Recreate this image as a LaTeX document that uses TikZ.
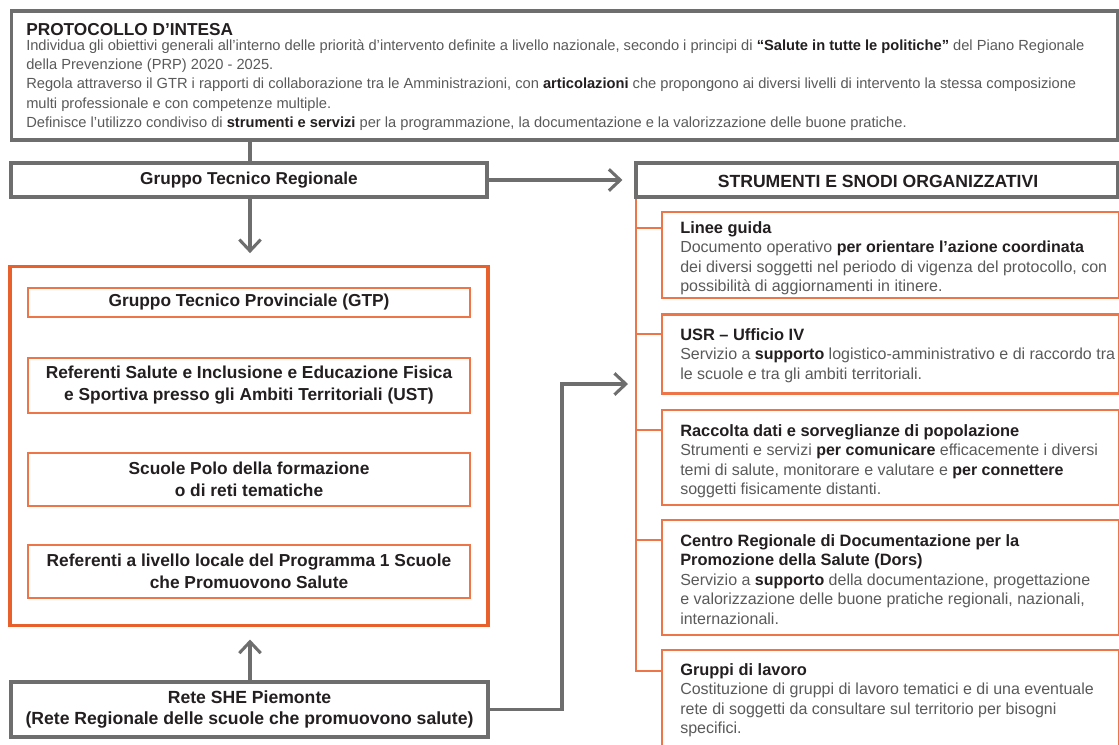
\documentclass[tikz,border=0pt]{standalone}
\usepackage{fontspec}
\setmainfont{Liberation Sans}
\usetikzlibrary{arrows.meta}
\definecolor{gb}{HTML}{6E6E6E}
\definecolor{ob}{HTML}{E8612C}
\definecolor{oi}{HTML}{EE7548}
\definecolor{tx}{HTML}{5A5A5A}
\definecolor{tb}{HTML}{231F20}
\newcommand\bk[1]{\textbf{\color{tb}#1}}
\newcommand\rtitle[1]{{\fontsize{12.3}{14.7}\selectfont\bk{#1}}}
\begin{document}
\begin{tikzpicture}[x=0.75pt,y=-0.75pt,
  graybox/.style={draw=gb, line width=2.3pt, fill=white, inner sep=0pt},
  outerbox/.style={draw=ob, line width=2.3pt, inner sep=0pt},
  innerbox/.style={draw=oi, line width=2.2pt, fill=white, inner sep=0pt, minimum width=331.5pt, align=center,
     font=\fontsize{13}{16.5}\selectfont\bfseries\color{tb}},
  rbox/.style={draw=oi, line width=2.2pt, fill=white, inner sep=0pt, minimum width=342.75pt},
  rtext/.style={anchor=north west, inner sep=0pt, align=left, font=\fontsize{12}{14.7}\selectfont\color{tx}},
  gline/.style={draw=gb, line width=2.3pt},
  garrow/.style={gline, -{Straight Barb[length=8.5pt,width=16pt,line width=2.3pt]}},
  oline/.style={draw=oi, line width=2.2pt}
]
\useasboundingbox (0,0) rectangle (1119,744);
\fill[white] (0,0) rectangle (1119,744);

% top box
\node[graybox, minimum width=829.5pt, minimum height=96.75pt] (proto) at (564.5,75.5) {};
\node[anchor=north west, inner sep=0pt, font=\fontsize{12.95}{15}\selectfont\bfseries\color{tb}] (ptitle) at (26,23.5) {PROTOCOLLO D’INTESA};
\node[anchor=north west, inner sep=0pt, align=left, font=\fontsize{11}{14.4}\selectfont\color{tx}] (ptext) at (26,39.5) {%
Individua gli obiettivi generali all’interno delle priorità d’intervento definite a livello nazionale, secondo i principi di \bk{“Salute in tutte le politiche”} del Piano Regionale\\
della Prevenzione (PRP) 2020 - 2025.\\
Regola attraverso il GTR i rapporti di collaborazione tra le Amministrazioni, con \bk{articolazioni} che propongono ai diversi livelli di intervento la stessa composizione\\
multi professionale e con competenze multiple.\\
Definisce l’utilizzo condiviso di \bk{strumenti e servizi} per la programmazione, la documentazione e la valorizzazione delle buone pratiche.};

% GTR and STR
\node[graybox, minimum width=357pt, minimum height=25.5pt, font=\fontsize{12.9}{15}\selectfont\bfseries\color{tb}] (gtr) at (249,180) {Gruppo Tecnico Regionale};
\node[graybox, minimum width=361.5pt, minimum height=25.5pt] (str) at (877,180) {};
\node[inner sep=0pt, font=\fontsize{13.2}{15}\selectfont\bfseries\color{tb}] (strt) at (878,181.5) {STRUMENTI E SNODI ORGANIZZATIVI};

% outer orange box
\node[outerbox, minimum width=358.5pt, minimum height=269pt] (outer) at (249,446) {};
\node[innerbox, minimum height=21.75pt] (gtp) at (249,302.5) {Gruppo Tecnico Provinciale (GTP)};
\node[innerbox, minimum height=41.25pt] (refsal) at (249,385.5) {Referenti Salute e Inclusione e Educazione Fisica\\e Sportiva presso gli Ambiti Territoriali (UST)};
\node[innerbox, minimum height=39.75pt] (scuole) at (249,479.5) {Scuole Polo della formazione\\o di reti tematiche};
\node[innerbox, minimum height=39.75pt] (refloc) at (249,571.5) {Referenti a livello locale del Programma 1 Scuole\\che Promuovono Salute};

% SHE
\node[graybox, minimum width=357.75pt, minimum height=41.25pt, align=center, font=\fontsize{13.2}{16}\selectfont\bfseries\color{tb}] (she) at (249.5,709.5) {Rete SHE Piemonte\\(Rete Regionale delle scuole che promuovono salute)};

% right boxes
\node[rbox, minimum height=64.5pt] (linee) at (890.5,255) {};
\node[rbox, minimum height=59.25pt] (usr) at (890.5,354) {};
\node[rbox, minimum height=71.25pt] (racc) at (890.5,457.5) {};
\node[rbox, minimum height=86.25pt] (centro) at (890.5,577.5) {};
\node[rbox, minimum height=76.5pt] (gruppi) at (890.5,701) {};

\node[rtext] (lineet) at (680,221) {\rtitle{Linee guida}\\
Documento operativo \bk{per orientare l’azione coordinata}\\
dei diversi soggetti nel periodo di vigenza del protocollo, con\\
possibilità di aggiornamenti in itinere.};
\node[rtext] (usrt) at (680,328) {\rtitle{USR – Ufficio IV}\\
Servizio a \bk{supporto} logistico-amministrativo e di raccordo tra\\
le scuole e tra gli ambiti territoriali.};
\node[rtext] (racct) at (680,424) {\rtitle{Raccolta dati e sorveglianze di popolazione}\\
Strumenti e servizi \bk{per comunicare} efficacemente i diversi\\
temi di salute, monitorare e valutare e \bk{per connettere}\\
soggetti fisicamente distanti.};
\node[rtext] (centrot) at (680,534) {\rtitle{Centro Regionale di Documentazione per la}\\
\rtitle{Promozione della Salute (Dors)}\\
Servizio a \bk{supporto} della documentazione, progettazione\\
e valorizzazione delle buone pratiche regionali, nazionali,\\
internazionali.};
\node[rtext] (gruppit) at (680,663) {\rtitle{Gruppi di lavoro}\\
Costituzione di gruppi di lavoro tematici e di una eventuale\\
rete di soggetti da consultare sul territorio per bisogni\\
specifici.};

% spine and branches
\draw[oline] (str.south -| 636,0) -- (636,671) -- (gruppi.west |- 0,671);
\draw[oline] (636,228) -- (linee.west |- 0,228);
\draw[oline] (636,334) -- (usr.west |- 0,334);
\draw[oline] (636,430) -- (racc.west |- 0,430);
\draw[oline] (636,540) -- (centro.west |- 0,540);

% connectors
\draw[gline] (proto.south -| 250,0) -- (gtr.north -| 250,0);
\draw[garrow] (gtr.east) -- ([xshift=-9pt]str.west);
\draw[garrow] (gtr.south -| 250,0) -- ([yshift=9pt]outer.north -| 250,0);
\draw[garrow] (she.north -| 250,0) -- ([yshift=-9.5pt]outer.south -| 250,0);
\coordinate (bend1) at (562,709.5);
\coordinate (bend2) at (562,384);
\coordinate (tipr) at (628,384);
\draw[garrow] (she.east) -- (bend1) -- (bend2) -- (tipr);
\end{tikzpicture}
\end{document}
